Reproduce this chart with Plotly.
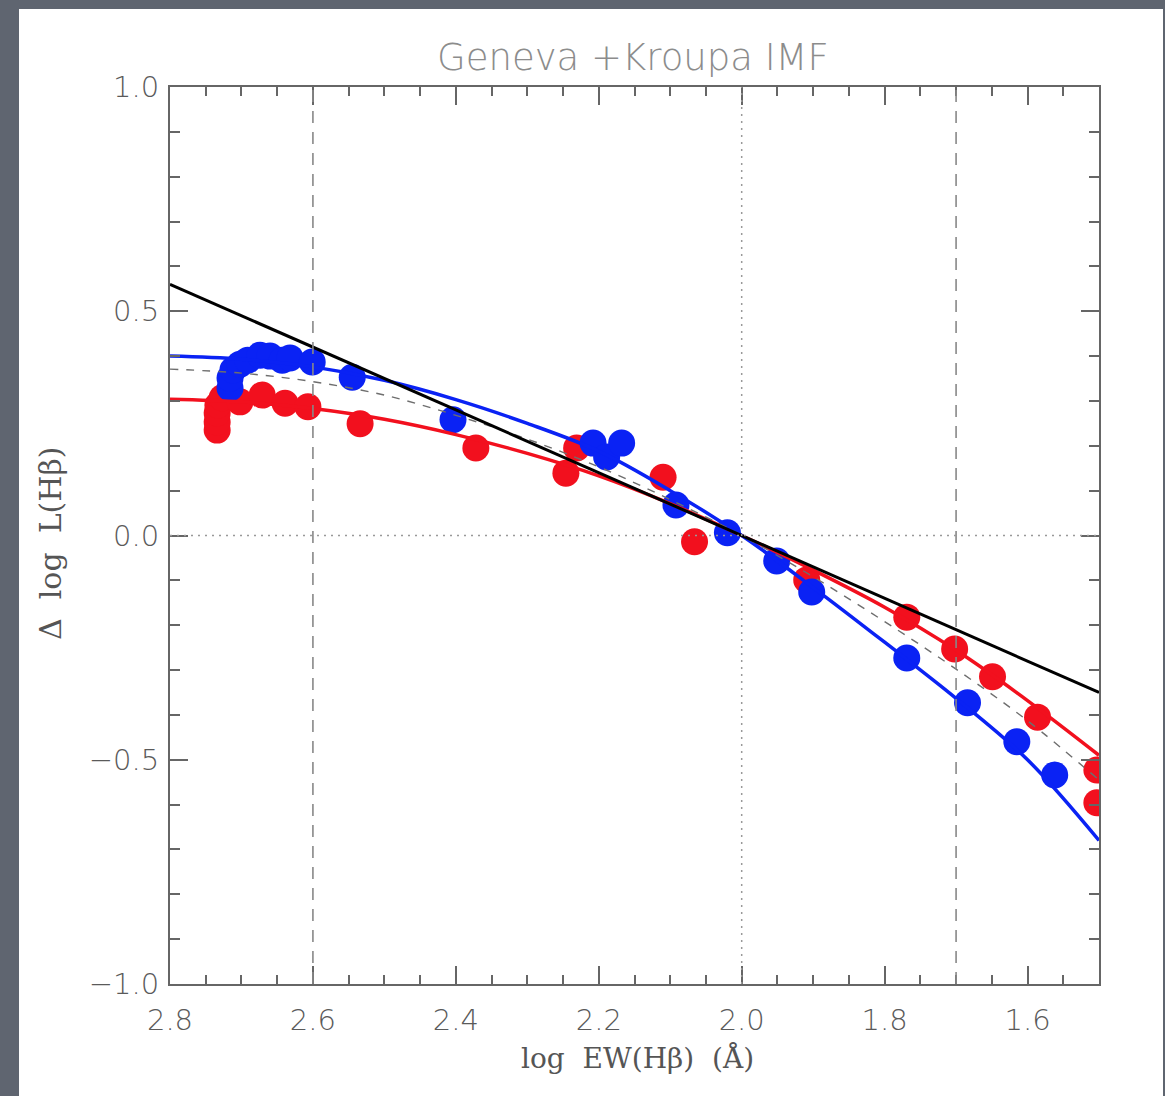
import plotly.graph_objects as go

# ---- model curves (log EW(Hb) grid) ----
curve_x = [2.8, 2.7, 2.6, 2.5, 2.4, 2.3, 2.2, 2.1, 2.0, 1.9, 1.8, 1.7, 1.6, 1.5]
blue_curve = [0.400, 0.393, 0.376, 0.346, 0.303, 0.250, 0.188, 0.100, 0.000,
              -0.116, -0.238, -0.363, -0.500, -0.680]
red_curve = [0.304, 0.298, 0.283, 0.259, 0.225, 0.183, 0.133, 0.071, 0.000,
             -0.077, -0.160, -0.256, -0.368, -0.490]
mean_curve = [0.371, 0.362, 0.343, 0.313, 0.268, 0.215, 0.153, 0.080, 0.000,
              -0.092, -0.192, -0.298, -0.413, -0.545]

# linear relation
line_x = [2.8, 1.5]
line_y = [0.56, -0.35]

# ---- model points ----
blue_x = [2.716, 2.716, 2.712, 2.702, 2.691, 2.674, 2.660, 2.643, 2.632, 2.601,
          2.545, 2.404, 2.208, 2.189, 2.168, 2.092, 2.020, 1.951, 1.902, 1.769,
          1.684, 1.615, 1.562]
blue_y = [0.329, 0.351, 0.369, 0.382, 0.391, 0.402, 0.400, 0.391, 0.396, 0.387,
          0.353, 0.258, 0.206, 0.175, 0.206, 0.068, 0.006, -0.057, -0.126, -0.273,
          -0.373, -0.460, -0.534]
red_x = [2.734, 2.734, 2.734, 2.733, 2.727, 2.702, 2.671, 2.639, 2.607, 2.534,
         2.372, 2.246, 2.231, 2.110, 2.066, 1.909, 1.769, 1.702, 1.649, 1.586,
         1.503, 1.503]
red_y = [0.235, 0.253, 0.273, 0.291, 0.307, 0.298, 0.313, 0.295, 0.287, 0.249,
         0.195, 0.139, 0.195, 0.130, -0.014, -0.099, -0.182, -0.253, -0.315, -0.405,
         -0.523, -0.596]

# reference lines
dashed_vlines = [2.6, 1.7]
dotted_vline = 2.0
dotted_hline = 0.0

x_range = [2.8, 1.5]
y_range = [-1.0, 1.0]

BLUE = "#0a22f4"
RED = "#f2101e"
AXIS = "#666666"

fig = go.Figure()

fig.add_trace(go.Scatter(x=red_x, y=red_y, mode="markers",
                         marker=dict(size=27, color=RED, line=dict(width=0))))
fig.add_trace(go.Scatter(x=blue_x, y=blue_y, mode="markers",
                         marker=dict(size=27, color=BLUE, line=dict(width=0))))
fig.add_trace(go.Scatter(x=curve_x, y=red_curve, mode="lines",
                         line=dict(color=RED, width=3.5, shape="spline")))
fig.add_trace(go.Scatter(x=curve_x, y=blue_curve, mode="lines",
                         line=dict(color=BLUE, width=3.5, shape="spline")))
fig.add_trace(go.Scatter(x=curve_x, y=mean_curve, mode="lines",
                         line=dict(color="#6e6e6e", width=1.4, dash="8px,8px", shape="spline")))
fig.add_trace(go.Scatter(x=line_x, y=line_y, mode="lines",
                         line=dict(color="black", width=3)))

shapes = []
# white panel behind the figure
shapes.append(dict(type="rect", xref="paper", yref="paper",
                   x0=-151 / 929, x1=(1163 - 170) / 929,
                   y0=-0.2, y1=1 + (87 - 9) / 897,
                   fillcolor="white", line=dict(width=0), layer="below"))
for xv in dashed_vlines:
    shapes.append(dict(type="line", xref="x", yref="paper", x0=xv, x1=xv, y0=0, y1=1,
                       line=dict(color="#888888", width=1.6, dash="12px,9px"), layer="above"))
shapes.append(dict(type="line", xref="x", yref="paper", x0=dotted_vline, x1=dotted_vline,
                   y0=0, y1=1, line=dict(color="#999999", width=1.5, dash="2px,5px"),
                   layer="above"))
shapes.append(dict(type="line", xref="paper", yref="y", x0=0, x1=1, y0=dotted_hline,
                   y1=dotted_hline, line=dict(color="#999999", width=1.5, dash="2px,5px"),
                   layer="above"))

tick_font = dict(family="DejaVu Sans", size=29, color="#5a5a5a", weight=200)

fig.update_layout(
    width=1165, height=1096,
    margin=dict(l=170, r=66, t=87, b=112),
    paper_bgcolor="#5f6570",
    plot_bgcolor="white",
    showlegend=False,
    shapes=shapes,
    xaxis=dict(range=x_range, showgrid=False, zeroline=False,
               showline=True, linecolor=AXIS, linewidth=2, mirror="allticks",
               ticks="inside", ticklen=18, tickwidth=1.6, tickcolor=AXIS,
               tick0=2.0, dtick=0.2, tickformat=".1f", tickfont=tick_font,
               ticklabelstandoff=9,
               minor=dict(ticks="inside", dtick=0.05, ticklen=9, tickwidth=1.6,
                          tickcolor=AXIS, showgrid=False)),
    yaxis=dict(range=y_range, showgrid=False, zeroline=False,
               showline=True, linecolor=AXIS, linewidth=2, mirror="allticks",
               ticks="inside", ticklen=18, tickwidth=1.6, tickcolor=AXIS,
               tick0=0, dtick=0.5, tickformat=".1f", tickfont=tick_font,
               ticklabelstandoff=3,
               minor=dict(ticks="inside", dtick=0.1, ticklen=10, tickwidth=1.6,
                          tickcolor=AXIS, showgrid=False)),
    annotations=[
        dict(text="Geneva +Kroupa IMF", xref="paper", yref="paper",
             x=(633 - 170) / 929, y=1 + (87 - 57) / 897, xanchor="center", yanchor="middle",
             showarrow=False, font=dict(family="DejaVu Sans", size=37, color="#8c8c8c", weight=200)),
        dict(text="log  EW(Hβ)  (Å)", xref="paper", yref="paper",
             x=(637 - 170) / 929, y=-(1058 - 984) / 897, xanchor="center", yanchor="middle",
             showarrow=False, font=dict(family="DejaVu Serif", size=28, color="#555555")),
        dict(text="Δ  log  L(Hβ)", xref="paper", yref="paper",
             x=-(170 - 50) / 929, y=(984 - 543) / 897, xanchor="center", yanchor="middle",
             textangle=-90, showarrow=False,
             font=dict(family="DejaVu Serif", size=30, color="#555555")),
    ],
)

fig.write_html("out.html")
